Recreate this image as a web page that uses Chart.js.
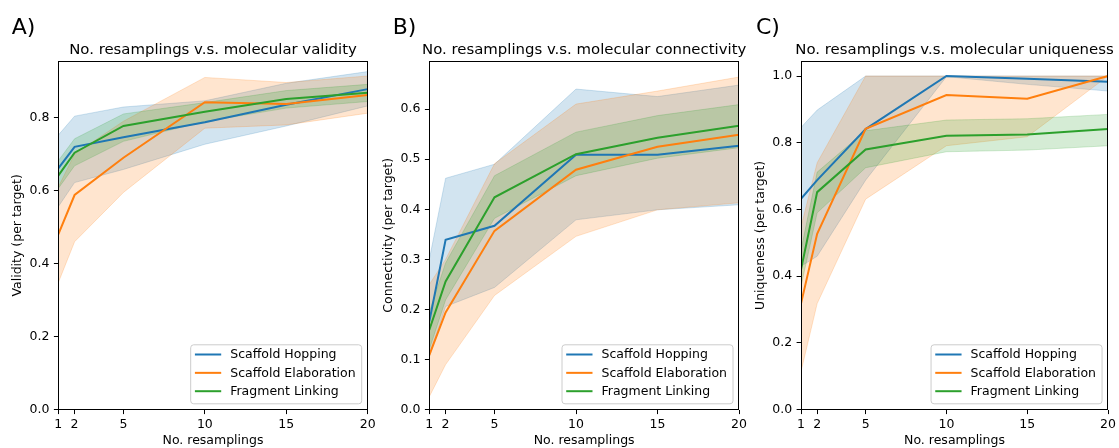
<!DOCTYPE html>
<html lang="en">
<head>
<meta charset="UTF-8">
<title>No. resamplings v.s. molecular validity / connectivity / uniqueness</title>
<script src="https://cdn.jsdelivr.net/npm/chart.js"></script>
<style>
    html, body { margin: 0; padding: 0; background: #fff; }
    #wrap { position: relative; width: 1119px; height: 448px; overflow: hidden; }
    #wrap canvas { position: absolute; left: 0; top: 0; }
</style>
</head>
<body>
<div id="wrap">
    <canvas id="chartA" width="1119" height="448"></canvas>
    <canvas id="chartB" width="1119" height="448"></canvas>
    <canvas id="chartC" width="1119" height="448"></canvas>
</div>
<script>
    // x values shared by every panel
    const resamplings = [1, 2, 5, 10, 15, 20];
    const seriesNames = ['Scaffold Hopping', 'Scaffold Elaboration', 'Fragment Linking'];

    // A) validity: mean, lower and upper band
    const validityHop = [0.661, 0.720, 0.746, 0.787, 0.835, 0.878];
    const validityHopLo = [0.556, 0.622, 0.658, 0.727, 0.777, 0.832];
    const validityHopHi = [0.752, 0.804, 0.829, 0.846, 0.894, 0.926];
    const validityElab = [0.480, 0.588, 0.690, 0.842, 0.837, 0.862];
    const validityElabLo = [0.348, 0.460, 0.595, 0.771, 0.780, 0.812];
    const validityElabHi = [0.610, 0.700, 0.790, 0.910, 0.896, 0.914];
    const validityLink = [0.641, 0.704, 0.777, 0.816, 0.851, 0.868];
    const validityLinkLo = [0.606, 0.668, 0.735, 0.789, 0.826, 0.844];
    const validityLinkHi = [0.682, 0.742, 0.810, 0.841, 0.874, 0.891];
    const validityTicks = [0, 0.2, 0.4, 0.6, 0.8];

    // B) connectivity
    const connectHop = [0.176, 0.339, 0.367, 0.509, 0.509, 0.527];
    const connectHopLo = [0.105, 0.206, 0.244, 0.379, 0.399, 0.409];
    const connectHopHi = [0.300, 0.462, 0.490, 0.640, 0.625, 0.648];
    const connectElab = [0.109, 0.194, 0.357, 0.479, 0.525, 0.549];
    const connectElabLo = [0.026, 0.090, 0.228, 0.346, 0.399, 0.413];
    const connectElabHi = [0.250, 0.300, 0.491, 0.610, 0.636, 0.664];
    const connectLink = [0.159, 0.256, 0.424, 0.510, 0.543, 0.567];
    const connectLinkLo = [0.120, 0.219, 0.382, 0.467, 0.502, 0.523];
    const connectLinkHi = [0.195, 0.293, 0.467, 0.554, 0.587, 0.609];
    const connectTicks = [0, 0.1, 0.2, 0.3, 0.4, 0.5, 0.6];

    // C) uniqueness
    const uniqHop = [0.632, 0.688, 0.841, 1.000, 0.992, 0.983];
    const uniqHopLo = [0.430, 0.460, 0.688, 0.998, 0.975, 0.955];
    const uniqHopHi = [0.846, 0.898, 1.000, 1.000, 1.000, 1.000];
    const uniqElab = [0.318, 0.527, 0.842, 0.943, 0.932, 1.000];
    const uniqElabLo = [0.114, 0.318, 0.631, 0.791, 0.818, 1.000];
    const uniqElabHi = [0.548, 0.740, 1.000, 1.000, 1.000, 1.000];
    const uniqLink = [0.420, 0.652, 0.780, 0.821, 0.825, 0.841];
    const uniqLinkLo = [0.369, 0.590, 0.725, 0.773, 0.778, 0.791];
    const uniqLinkHi = [0.479, 0.712, 0.836, 0.868, 0.872, 0.885];
    const uniqTicks = [0, 0.2, 0.4, 0.6, 0.8, 1.0];

    const lineColors = ['#1f77b4', '#ff7f0e', '#2ca02c'];
    const bandColors = ['rgba(31,119,180,0.2)', 'rgba(255,127,14,0.2)', 'rgba(44,160,44,0.2)'];

    Chart.defaults.font.family = "'DejaVu Sans', sans-serif";
    Chart.defaults.font.size = 12.5;
    Chart.defaults.color = '#000';

    const panels = [
        { id: 'chartA', letter: 'A)', letterX: 11.7, left: 58.3, right: 367.7, yMax: 0.955, yTicks: validityTicks,
          title: 'No. resamplings v.s. molecular validity', yLabel: 'Validity (per target)',
          series: [[validityHop, validityHopLo, validityHopHi], [validityElab, validityElabLo, validityElabHi], [validityLink, validityLinkLo, validityLinkHi]] },
        { id: 'chartB', letter: 'B)', letterX: 392.7, left: 429.3, right: 739, yMax: 0.696, yTicks: connectTicks,
          title: 'No. resamplings v.s. molecular connectivity', yLabel: 'Connectivity (per target)',
          series: [[connectHop, connectHopLo, connectHopHi], [connectElab, connectElabLo, connectElabHi], [connectLink, connectLinkLo, connectLinkHi]] },
        { id: 'chartC', letter: 'C)', letterX: 756, left: 801, right: 1110.3, yMax: 1.045, yTicks: uniqTicks,
          title: 'No. resamplings v.s. molecular uniqueness', yLabel: 'Uniqueness (per target)',
          series: [[uniqHop, uniqHopLo, uniqHopHi], [uniqElab, uniqElabLo, uniqElabHi], [uniqLink, uniqLinkLo, uniqLinkHi]] }
    ];

    const toPoints = arr => resamplings.map((x, i) => ({ x: x, y: arr[i] }));

    // frame, panel letter, title and legend box (matplotlib style)
    const panelDecor = {
        id: 'panelDecor',
        afterDraw(chart, args, opts) {
            const { ctx, chartArea: a } = chart;
            ctx.save();
            ctx.strokeStyle = '#000';
            ctx.lineWidth = 1;
            const l = Math.round(a.left) + 0.5, r = Math.round(a.right) - 0.5;
            const t = Math.round(a.top) + 0.5, b = Math.round(a.bottom) - 0.5;
            ctx.strokeRect(l, t, r - l, b - t);

            ctx.fillStyle = '#000';
            ctx.textBaseline = 'alphabetic';
            ctx.font = "22px 'DejaVu Sans', sans-serif";
            ctx.textAlign = 'left';
            ctx.fillText(opts.letter, opts.letterX, 34.3);
            ctx.font = "14.9px 'DejaVu Sans', sans-serif";
            ctx.textAlign = 'center';
            ctx.fillText(opts.title, (a.left + a.right) / 2, 53.5);

            // legend
            const bw = 171, bh = 59;
            const bx = a.right - 6.5 - bw, by = a.bottom - 6.4 - bh;
            ctx.beginPath();
            ctx.roundRect(bx + 0.5, by + 0.5, bw, bh, 3);
            ctx.fillStyle = 'rgba(255,255,255,0.8)';
            ctx.fill();
            ctx.strokeStyle = '#cccccc';
            ctx.stroke();
            ctx.font = "12.5px 'DejaVu Sans', sans-serif";
            ctx.textAlign = 'left';
            ctx.textBaseline = 'middle';
            seriesNames.forEach((name, i) => {
                const y = by + 10.2 + i * 18.35;
                ctx.strokeStyle = lineColors[i];
                ctx.lineWidth = 2;
                ctx.beginPath();
                ctx.moveTo(bx + 4.7, y);
                ctx.lineTo(bx + 31, y);
                ctx.stroke();
                ctx.fillStyle = '#000';
                ctx.fillText(name, bx + 40, y + 0.5);
            });
            ctx.restore();
        }
    };

    panels.forEach(p => {
        const datasets = [];
        // bands below all lines (matplotlib zorder), later series on top
        p.series.forEach((s, i) => {
            datasets.push({
                label: seriesNames[i], data: toPoints(s[0]), borderColor: lineColors[i],
                borderWidth: 2, pointRadius: 0, tension: 0, fill: false, order: 3 - i
            });
            datasets.push({
                label: seriesNames[i] + ' upper', data: toPoints(s[2]), borderColor: bandColors[i],
                backgroundColor: bandColors[i], borderWidth: 1, pointRadius: 0, tension: 0,
                fill: '+1', order: 6 - i
            });
            datasets.push({
                label: seriesNames[i] + ' lower', data: toPoints(s[1]), borderColor: bandColors[i],
                borderWidth: 1, pointRadius: 0, tension: 0, fill: false, order: 6 - i
            });
        });

        new Chart(document.getElementById(p.id), {
            type: 'line',
            data: { datasets: datasets },
            options: {
                responsive: false,
                animation: false,
                devicePixelRatio: 1,
                events: [],
                layout: { padding: { left: p.left - 50, right: 1119 - p.right, top: 61, bottom: 0 } },
                plugins: {
                    legend: { display: false },
                    tooltip: { enabled: false },
                    panelDecor: { letter: p.letter, letterX: p.letterX, title: p.title }
                },
                scales: {
                    x: {
                        type: 'linear', min: 1, max: 20,
                        afterBuildTicks: s => { s.ticks = resamplings.map(v => ({ value: v })); },
                        afterFit: s => { s.height = 38.3; },
                        grid: { drawOnChartArea: false, drawTicks: true, tickLength: 4.4, color: '#000', lineWidth: 1 },
                        border: { display: false },
                        ticks: { autoSkip: false, maxRotation: 0, padding: 3, color: '#000' },
                        title: { display: true, text: 'No. resamplings', padding: 0, color: '#000' }
                    },
                    y: {
                        min: 0, max: p.yMax,
                        afterBuildTicks: s => { s.ticks = p.yTicks.map(v => ({ value: v })); },
                        afterFit: s => { s.width = 50; },
                        grid: { drawOnChartArea: false, drawTicks: true, tickLength: 4.4, color: '#000', lineWidth: 1 },
                        border: { display: false },
                        ticks: { padding: 4.4, color: '#000', callback: v => v.toFixed(1) },
                        title: { display: true, text: p.yLabel, padding: { top: 2.2, bottom: 0 }, color: '#000' }
                    }
                }
            },
            plugins: [panelDecor]
        });
    });
</script>
</body>
</html>
